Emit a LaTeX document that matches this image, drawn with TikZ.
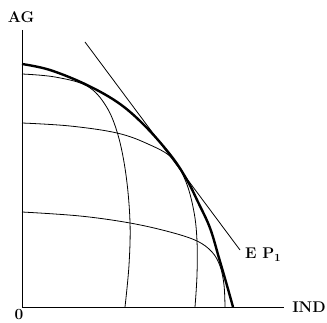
\documentclass[tikz,border=0pt]{standalone}
\usepackage{fontspec}
\setmainfont{Latin Modern Roman}
\begin{document}
\begin{tikzpicture}[x=1pt,y=-1pt,
  thin curve/.style={line width=0.8pt},
  thick curve/.style={line width=2.4pt},
  axis/.style={line width=0.8pt},
  lab/.style={font=\fontsize{15.5}{17}\selectfont\bfseries, inner sep=0pt}]
\useasboundingbox (0,0) rectangle (327,323);
% axes
\coordinate (O) at (22,307);
\coordinate (ytop) at (22,30);
\coordinate (xend) at (284,307);
\draw[axis] (ytop) -- (O) -- (xend);
% thin curves
\draw[thin curve] plot[smooth, tension=0.6] coordinates {(22,74) (55,77) (87,86) (106,106) (118,135) (126,175) (130,222) (129,265) (125,307)};
\draw[thin curve] plot[smooth, tension=0.6] coordinates {(22,123) (70,126) (117,133) (148,144) (172,158) (186,182) (194,212) (197,241) (197,275) (195,307)};
\draw[thin curve] plot[smooth, tension=0.6] coordinates {(22,212) (80,216) (130,223) (170,232) (197,241) (212,252) (220,266) (224,285) (225,307)};
% frontier
\draw[thick curve] plot[smooth, tension=0.6] coordinates {(22,64) (50,70) (87,85) (120,104) (147,128) (172,157) (187,180) (198,202) (210,228) (219,258) (226,282) (233,307)};
% tangent line
\coordinate (t1) at (85,42);
\coordinate (t2) at (240,250);
\draw[thin curve] (t1) -- (t2);
% labels
\node[lab] (ag) at (21,17) {AG};
\node[lab] (ind) at (309,307) {IND};
\node[lab, anchor=base west] (ep) at (245,259) {E P$_{\mathbf{1}}$};
\node[lab] (zero) at (19,315) {0};
\end{tikzpicture}
\end{document}
